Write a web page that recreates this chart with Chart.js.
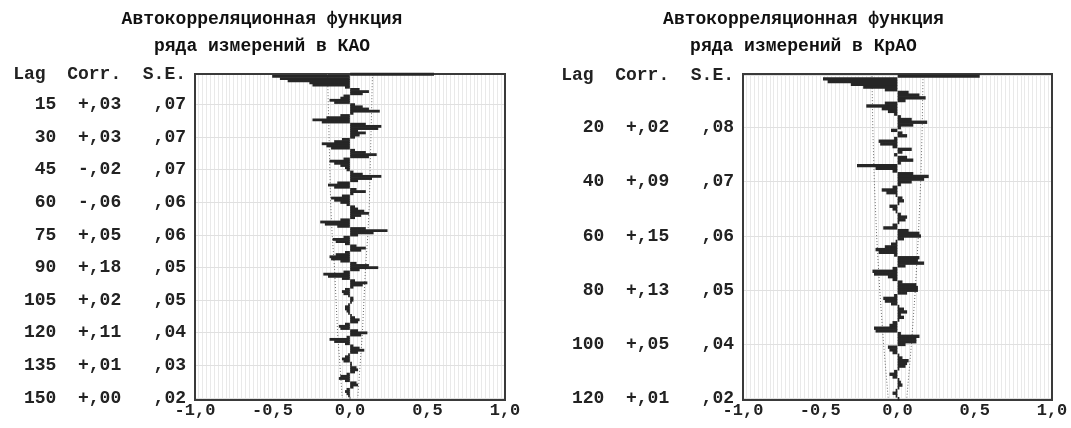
<!DOCTYPE html>
<html>
<head>
<meta charset="utf-8">
<title>Автокорреляционная функция</title>
<script src="https://cdn.jsdelivr.net/npm/chart.js@4.4.0/dist/chart.umd.min.js"></script>
<style>
  body { margin: 0; background: #fff; }
  .box { position: absolute; top: 0; height: 428px; }
  #box1 { left: 0; width: 524px; }
  #box2 { left: 536px; width: 535px; }
</style>
</head>
<body>
<div class="box" id="box1"><canvas id="myChart1"></canvas></div>
<div class="box" id="box2"><canvas id="myChart2"></canvas></div>
<script>
// ---- КАО : 150 lags ----
let kaoCorr = [
  0.54, -0.50, -0.45, -0.40, -0.26, -0.24, -0.03, 0.06, 0.12, 0.08,
  -0.04, -0.06, -0.13, -0.10, 0.03, 0.08, 0.12, 0.19, 0.02, -0.06,
  -0.15, -0.24, -0.18, 0.10, 0.20, 0.18, 0.05, 0.10, 0.06, 0.03,
  -0.05, -0.10, -0.18, -0.15, -0.12, 0.03, 0.10, 0.17, 0.12, -0.04,
  -0.13, -0.10, -0.06, -0.03, -0.02, 0.02, 0.08, 0.20, 0.14, 0.05,
  -0.08, -0.14, -0.10, 0.04, 0.10, 0.02, -0.05, -0.12, -0.10, -0.06,
  -0.02, 0.03, 0.05, 0.09, 0.12, 0.07, 0.03, -0.06, -0.19, -0.16,
  -0.08, 0.10, 0.24, 0.15, 0.05, -0.04, -0.11, -0.09, -0.03, 0.04,
  0.10, 0.07, -0.03, -0.09, -0.13, -0.12, -0.06, 0.04, 0.12, 0.18,
  0.06, -0.04, -0.17, -0.14, -0.05, 0.03, 0.11, 0.08, 0.02, -0.03,
  -0.05, -0.04, -0.01, 0.02, 0.02, 0.01, -0.01, -0.03, -0.03, -0.02,
  -0.01, 0.01, 0.03, 0.06, 0.05, -0.03, -0.07, -0.06, 0.05, 0.11,
  0.07, -0.02, -0.13, -0.10, -0.03, 0.02, 0.06, 0.09, 0.05, -0.01,
  -0.03, -0.05, -0.04, 0.01, 0.01, 0.04, 0.05, 0.03, -0.02, -0.06,
  -0.07, -0.03, 0.04, 0.05, 0.02, -0.02, -0.03, -0.02, -0.01, 0.00
];
let kaoLags = kaoCorr.map((v, i) => i + 1);
let kaoTableLags = [15, 30, 45, 60, 75, 90, 105, 120, 135, 150];
let kaoTableCorr = [0.03, 0.03, -0.02, -0.06, 0.05, 0.18, 0.02, 0.11, 0.01, 0.00];
let kaoTableSE = [0.07, 0.07, 0.07, 0.06, 0.06, 0.05, 0.05, 0.04, 0.03, 0.02];
// dotted confidence limits
let kaoBandLags = [1, 15, 30, 45, 60, 75, 90, 105, 120, 135, 150];
let kaoBand = [0.145, 0.14, 0.135, 0.13, 0.125, 0.115, 0.10, 0.09, 0.08, 0.065, 0.05];

// ---- КрАО : 120 lags ----
let kraoCorr = [
  0.53, -0.48, -0.45, -0.30, -0.22, -0.08, 0.07, 0.14, 0.18, 0.05,
  -0.08, -0.20, -0.10, -0.06, -0.02, 0.02, 0.09, 0.19, 0.10, 0.02,
  -0.04, 0.03, 0.06, -0.02, -0.12, -0.11, -0.03, 0.09, 0.03, -0.02,
  0.06, 0.10, 0.02, -0.26, -0.14, -0.03, 0.10, 0.20, 0.17, 0.09,
  0.02, -0.03, -0.10, -0.07, -0.01, 0.03, 0.04, 0.01, -0.05, -0.03,
  -0.01, 0.02, 0.06, 0.05, 0.01, -0.03, -0.09, 0.07, 0.14, 0.15,
  0.04, -0.01, -0.04, -0.08, -0.14, -0.12, -0.02, 0.14, 0.13, 0.17,
  0.05, -0.03, -0.16, -0.15, -0.06, -0.03, 0.03, 0.12, 0.13, 0.13,
  0.06, -0.02, -0.09, -0.08, -0.04, 0.01, 0.04, 0.06, 0.02, 0.04,
  0.01, -0.03, -0.05, -0.15, -0.14, 0.02, 0.14, 0.12, 0.12, 0.05,
  -0.06, -0.05, -0.03, 0.01, 0.03, 0.07, 0.06, 0.05, 0.01, -0.02,
  -0.05, -0.03, 0.01, 0.02, 0.03, 0.01, -0.01, -0.03, -0.01, 0.01
];
let kraoLags = kraoCorr.map((v, i) => i + 1);
let kraoTableLags = [20, 40, 60, 80, 100, 120];
let kraoTableCorr = [0.02, 0.09, 0.15, 0.13, 0.05, 0.01];
let kraoTableSE = [0.08, 0.07, 0.06, 0.05, 0.04, 0.02];
let kraoBandLags = [1, 20, 40, 60, 80, 100, 120];
let kraoBand = [0.165, 0.16, 0.15, 0.135, 0.115, 0.09, 0.06];

let xTickLabels = [-1, -0.5, 0, 0.5, 1];
let titleLine1 = 'Автокорреляционная функция';

let monoFont = "'Liberation Mono', 'DejaVu Sans Mono', monospace";

function fmtCorr(v) {
  let s = Math.abs(v).toFixed(2).replace('0.', ',');
  return (v < 0 ? '-' : '+') + s;
}

function fmtSE(v) {
  return v.toFixed(2).replace('0.', ',');
}

function fmtX(v) {
  let r = Math.round(v * 10) / 10 + 0;
  return r.toFixed(1).replace('.', ',');
}

// frame around the plot area
let framePlugin = {
  id: 'frame',
  beforeDatasetsDraw(chart) {
    let a = chart.chartArea;
    let c = chart.ctx;
    c.save();
    c.strokeStyle = '#3a3a3a';
    c.lineWidth = 2;
    c.strokeRect(a.left, a.top, a.right - a.left, a.bottom - a.top);
    c.restore();
  }
};

function makeChart(id, cfg) {
  let header = 'Lag  Corr.  S.E.';
  let upper = cfg.bandLags.map((l, i) => ({ x: cfg.band[i], y: l }));
  let lower = cfg.bandLags.map((l, i) => ({ x: -cfg.band[i], y: l }));
  let bandStyle = {
    type: 'line',
    borderColor: '#6a6a6a',
    borderWidth: 1,
    borderDash: [1, 2],
    pointRadius: 0,
    fill: false
  };

  return new Chart(document.getElementById(id), {
    type: 'bar',
    data: {
      labels: cfg.lags,
      datasets: [
        {
          label: 'Corr.',
          data: cfg.corr,
          backgroundColor: '#262626',
          borderWidth: 0,
          barPercentage: 1,
          categoryPercentage: 1,
          clip: false
        },
        Object.assign({ label: 'upper', data: upper }, bandStyle),
        Object.assign({ label: 'lower', data: lower }, bandStyle)
      ]
    },
    options: {
      indexAxis: 'y',
      responsive: true,
      maintainAspectRatio: false,
      animation: false,
      layout: { padding: { left: cfg.padLeft, right: 0, top: 0, bottom: 4 } },
      plugins: {
        legend: { display: false },
        tooltip: { enabled: false },
        title: {
          display: true,
          text: [titleLine1, cfg.title2],
          color: '#111',
          font: { family: monoFont, size: 18, weight: 'bold', lineHeight: 1.5 },
          padding: { top: 6, bottom: 14 }
        }
      },
      scales: {
        x: {
          type: 'linear',
          min: -1,
          max: 1,
          offset: false,
          border: { display: false },
          grid: { color: '#e9e9e9', lineWidth: 1, drawTicks: false, offset: false },
          ticks: {
            stepSize: 0.025,
            autoSkip: false,
            maxRotation: 0,
            padding: 1,
            color: '#222',
            font: { family: monoFont, size: 17, weight: 'bold' },
            callback: function (v) {
              let hit = xTickLabels.find(t => Math.abs(t - v) < 1e-6);
              return hit === undefined ? '' : fmtX(hit);
            }
          },
          afterFit: function (axis) { axis.height = 24; }
        },
        y: {
          type: 'linear',
          reverse: true,
          min: cfg.yMin,
          max: cfg.yMax,
          offset: false,
          border: { display: false },
          grid: { color: '#e0e0e0', lineWidth: 1, drawTicks: false, offset: false },
          afterBuildTicks: function (axis) {
            axis.ticks = [cfg.headerAt].concat(cfg.tableLags).map(v => ({ value: v }));
          },
          afterFit: function (axis) { axis.width = cfg.axisWidth; },
          ticks: {
            autoSkip: false,
            padding: 9,
            color: '#222',
            font: { family: monoFont, size: 18, weight: 'bold' },
            callback: function (v) {
              if (v === cfg.headerAt) return header;
              let i = cfg.tableLags.indexOf(v);
              if (i < 0) return '';
              return String(v).padStart(4) + '  ' + fmtCorr(cfg.tableCorr[i]) + '   ' + fmtSE(cfg.tableSE[i]);
            }
          }
        },
        // empty margin on the right side of the plot
        yr: {
          type: 'linear',
          position: 'right',
          display: true,
          border: { display: false },
          grid: { display: false },
          ticks: { display: false },
          afterFit: function (axis) { axis.width = cfg.rightGap; }
        }
      }
    },
    plugins: [framePlugin]
  });
}

const myChart = makeChart('myChart1', {
  title2: 'ряда измерений в КАО',
  lags: kaoLags, corr: kaoCorr,
  tableLags: kaoTableLags, tableCorr: kaoTableCorr, tableSE: kaoTableSE,
  bandLags: kaoBandLags, band: kaoBand,
  yMin: 0.9, yMax: 150.9, headerAt: 1.3,
  padLeft: 0, axisWidth: 195, rightGap: 19
});

const myChart1 = makeChart('myChart2', {
  title2: 'ряда измерений в КрАО',
  lags: kraoLags, corr: kraoCorr,
  tableLags: kraoTableLags, tableCorr: kraoTableCorr, tableSE: kraoTableSE,
  bandLags: kraoBandLags, band: kraoBand,
  yMin: 0.2, yMax: 120.5, headerAt: 0.6,
  padLeft: 0, axisWidth: 207, rightGap: 19
});
</script>
</body>
</html>
